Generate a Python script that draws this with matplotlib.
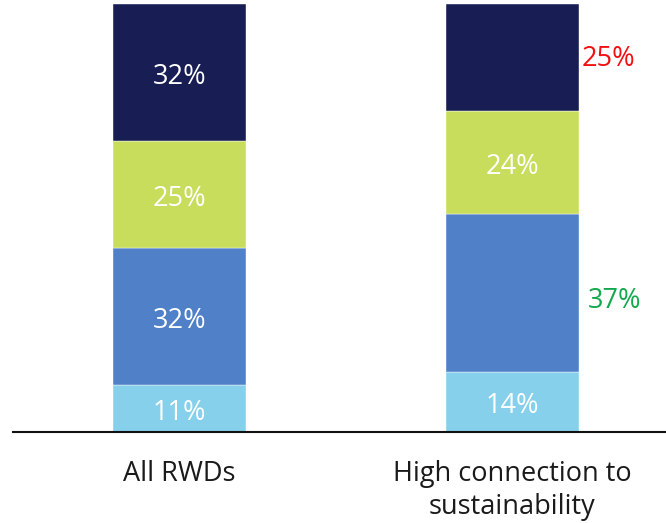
import matplotlib.pyplot as plt

plt.rcParams['font.family'] = ['Open Sans', 'DejaVu Sans']

categories = ['All RWDs', 'High connection to\nsustainability']
# stacked from the bottom up
seg_bottom = [11, 14]
seg_mid = [32, 37]
seg_upper = [25, 24]
seg_top = [32, 25]
colors = ['#86D0EB', '#4F80C8', '#C8DD5C', '#181E53']

# which segments carry a white label inside the bar
show_inside = [[True, True], [True, False], [True, True], [True, False]]

# side notes next to the second bar
note_top = '25%'
note_mid = '37%'

fig = plt.figure(figsize=(6.66, 5.23), dpi=100)
ax = fig.add_axes([13 / 666, 91 / 523, 653 / 666, 428 / 523])

x = [0, 1]
bottoms = [0, 0]
for vals, c, shown in zip([seg_bottom, seg_mid, seg_upper, seg_top], colors, show_inside):
    ax.bar(x, vals, width=0.4, bottom=bottoms, color=c,
           edgecolor='#FFFFFF', linewidth=0.3)
    for xi, v, b, s in zip(x, vals, bottoms, shown):
        if s:
            ax.text(xi, b + v / 2 - 1.0, f'{v}%', ha='center', va='center',
                    color='white', fontsize=19.5)
    bottoms = [b + v for b, v in zip(bottoms, vals)]

top_mid = 100 - seg_top[1] / 2
mid_mid = seg_bottom[1] + seg_mid[1] / 2
ax.text(1.287, top_mid - 0.3, note_top, ha='center', va='center',
        color='#F01010', fontsize=19.5)
ax.text(1.308, mid_mid - 2.0, note_mid, ha='center', va='center',
        color='#13A84B', fontsize=19.5)

ax.set_xlim(-0.5, 1.461)
ax.set_ylim(0, 100)
ax.set_xticks(x)
ax.set_xticklabels(categories, fontsize=19.5, color='#1A1A1A', linespacing=1.25)
ax.tick_params(axis='x', length=0, pad=20)
ax.set_yticks([])
for s in ['top', 'right', 'left']:
    ax.spines[s].set_visible(False)
ax.spines['bottom'].set_linewidth(1.5)
ax.spines['bottom'].set_color('#111111')

fig.savefig('out.png', dpi=100)
